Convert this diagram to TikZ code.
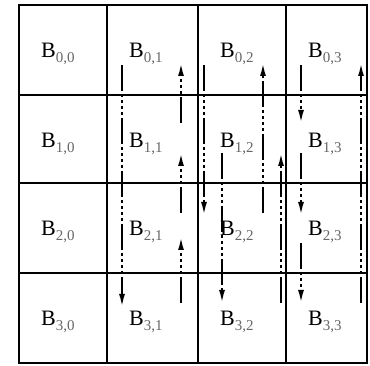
\documentclass[tikz,border=0pt]{standalone}
\usepackage{fontspec}
\setmainfont{Liberation Serif}
\usetikzlibrary{arrows.meta}

\newcommand{\blocksub}[1]{\raisebox{-5pt}{\fontsize{15}{15}\selectfont\color{black!60}#1}}

\begin{document}
\begin{tikzpicture}[x=1pt, y=-1pt,
    gridline/.style={line width=2.8pt, line cap=rect},
    blk/.style={anchor=base west, inner sep=0pt, font=\fontsize{22}{22}\selectfont},
    move/.style={line width=2pt,
                 dash pattern=on 26pt off 3pt on 3pt off 3pt on 3pt off 3pt on 3pt off 3pt on 3pt off 3pt,
                 -{Latex[length=13pt, width=6pt]}}
]
    \useasboundingbox (0,0) rectangle (370,366);

    % block grid
    \draw[gridline] (19,5) rectangle (367,363);
    \foreach \x in {107,198,286}
        \draw[gridline] (\x,5) -- (\x,363);
    \foreach \y in {95,183,273}
        \draw[gridline] (19,\y) -- (367,\y);

    % blocks B_{i,j}
    \foreach \i/\y in {0/5,1/95,2/183,3/273}
        \foreach \j/\x in {0/19,1/107,2/198,3/286}
            \node[blk] (b\i\j) at (\x+22,\y+53) {B\blocksub{\i,\j}};

    % column shifts
    \foreach \n/\x/\ya/\yb in {a/122/65/307, b/181/303/237, c/181/213/153, d/181/123/63,
                               e/204/65/215, f/222/153/303, g/263/213/63, h/281/303/153,
                               k/301/65/123, l/301/153/215, m/301/243/303, n/361/303/63} {
        \coordinate (from\n) at (\x,\ya);
        \coordinate (to\n) at (\x,\yb);
        \draw[move] (from\n) -- (to\n);
    }
\end{tikzpicture}
\end{document}
